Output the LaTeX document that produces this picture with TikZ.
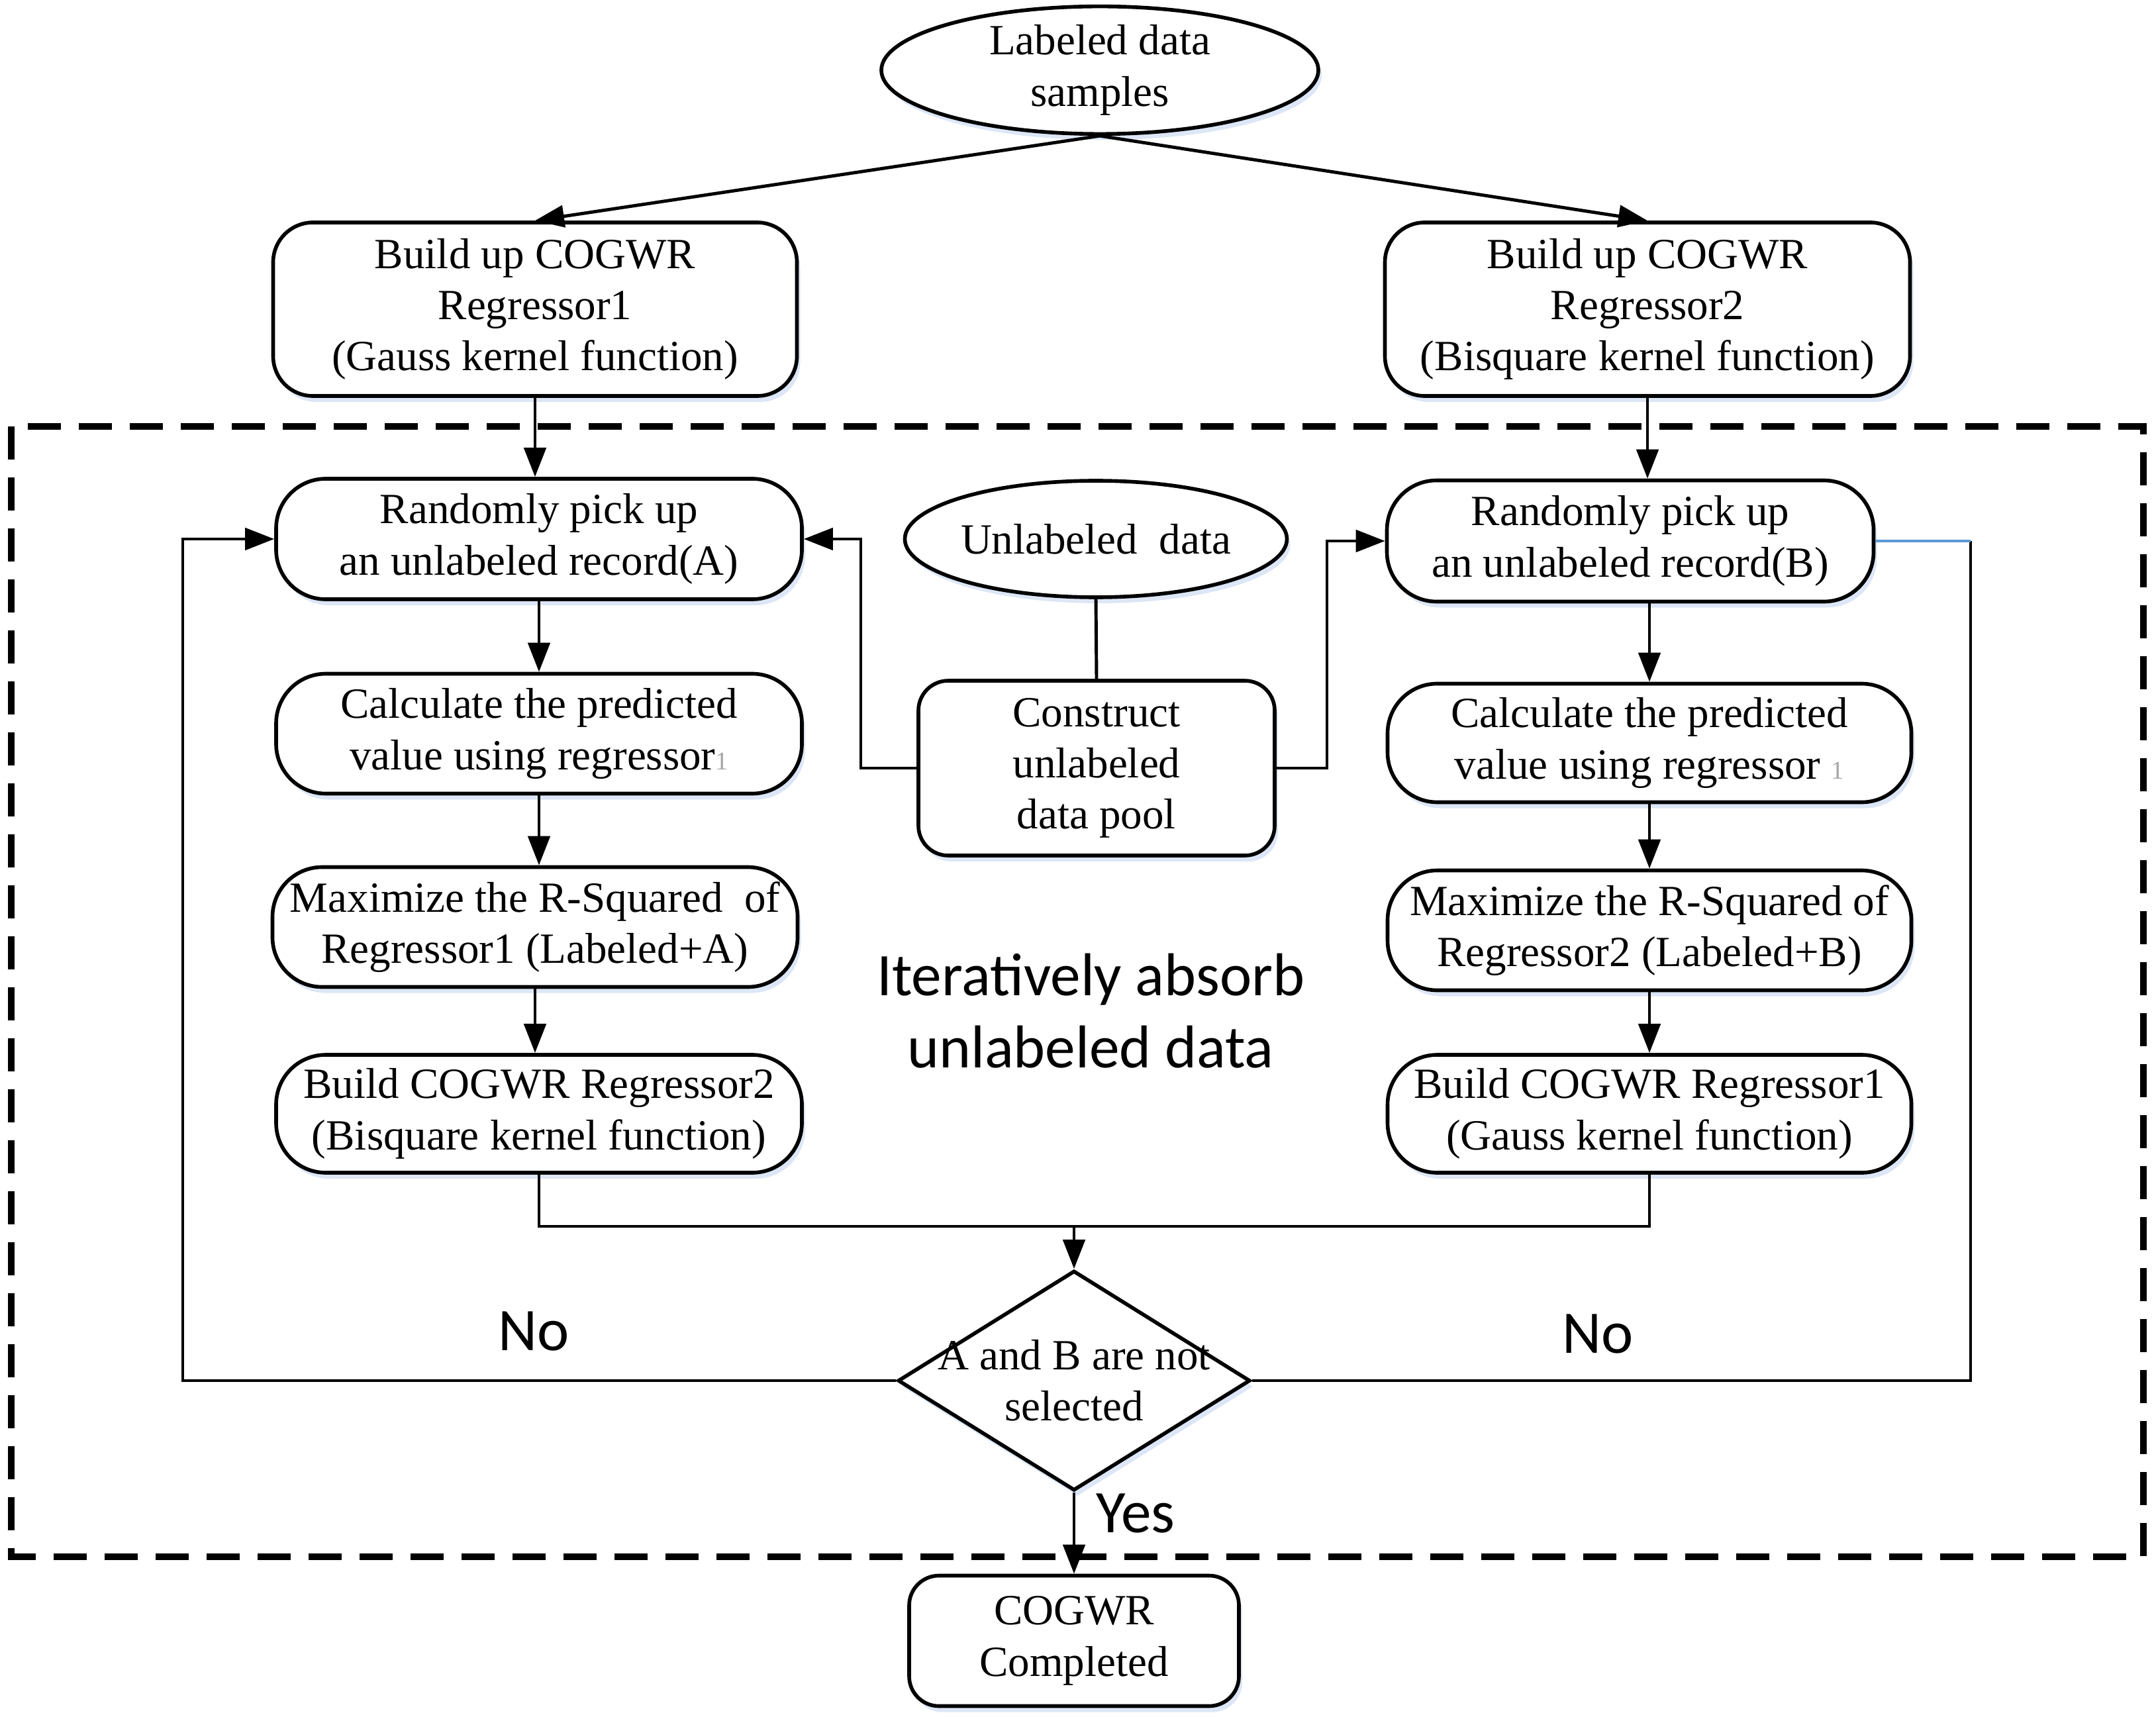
\documentclass[tikz,border=0pt]{standalone}
\usepackage{fontspec}
\setmainfont{Liberation Serif}
\newfontfamily\sansf{Carlito}
\usetikzlibrary{arrows.meta,shapes.geometric,shadows}
\definecolor{glow}{RGB}{205,220,242}
\definecolor{lineblue}{RGB}{91,155,213}
\tikzset{
  base/.style={draw=black, line width=1.6pt, fill=white, align=center, inner sep=0pt,
     font=\fontsize{18.5}{22}\selectfont,
     drop shadow={shadow xshift=0.5mm, shadow yshift=-0.9mm, fill=glow, opacity=0.7}},
  rbox/.style={base, rectangle, rounded corners=#1},
  ell/.style={base, ellipse},
  dia/.style={base, diamond},
  conn/.style={line width=1.4pt, draw=black},
  arr/.style={conn, -{Triangle[length=0.44cm,width=0.33cm]}},
  dashbox/.style={line width=2.8pt, dash pattern=on 0.5cm off 0.27cm},
  lbl/.style={font=\sansf\fontsize{26}{31}\selectfont, align=center, inner sep=0pt},
  dtext/.style={font=\fontsize{18.5}{22}\selectfont, align=center, inner sep=0pt}
}
\begin{document}
\begin{tikzpicture}
\useasboundingbox (0,0) rectangle (32.56,-25.93);

% dashed region
\draw[dashbox] (0.17,-6.44) rectangle (32.37,-23.51);

% nodes
\node[ell, minimum width=6.6cm, minimum height=1.6cm] (lab) at (16.61,-1.06) {Labeled data\\samples};
\node[rbox=0.6cm, minimum width=7.91cm, minimum height=2.62cm] (r1) at (8.08,-4.67) {Build up COGWR\\Regressor1\\(Gauss kernel function)};
\node[rbox=0.6cm, minimum width=7.93cm, minimum height=2.62cm] (r2) at (24.88,-4.67) {Build up COGWR\\Regressor2\\(Bisquare kernel function)};

\node[rbox=0.75cm, minimum width=7.94cm, minimum height=1.82cm] (ra) at (8.14,-8.14) {Randomly pick up\\an unlabeled record(A)};
\node[rbox=0.75cm, minimum width=7.35cm, minimum height=1.83cm] (rb) at (24.62,-8.17) {Randomly pick up\\an unlabeled record(B)};
\node[ell, minimum width=5.36cm, minimum height=1.76cm] (ud) at (16.55,-8.14) {Unlabeled\ \ data};
\node[rbox=0.45cm, minimum width=5.38cm, minimum height=2.64cm] (cp) at (16.56,-11.60) {Construct\\unlabeled\\ data pool};

\node[rbox=0.75cm, minimum width=7.94cm, minimum height=1.81cm] (ca) at (8.14,-11.08) {Calculate the predicted\\ value using regressor{\color{black!35}\fontsize{11}{12}\selectfont 1}};
\node[rbox=0.75cm, minimum width=7.91cm, minimum height=1.79cm] (cb) at (24.91,-11.22) {Calculate the predicted\\ value using regressor {\color{black!35}\fontsize{11}{12}\selectfont 1}};

\node[rbox=0.75cm, minimum width=7.93cm, minimum height=1.81cm] (ma) at (8.08,-14.00) {Maximize the R-Squared\ \ of\\Regressor1 (Labeled+A)};
\node[rbox=0.75cm, minimum width=7.91cm, minimum height=1.81cm] (mb) at (24.91,-14.05) {Maximize the R-Squared of\\Regressor2 (Labeled+B)};

\node[rbox=0.75cm, minimum width=7.94cm, minimum height=1.78cm] (ba) at (8.14,-16.82) {Build COGWR Regressor2\\(Bisquare kernel function)};
\node[rbox=0.75cm, minimum width=7.91cm, minimum height=1.78cm] (bb) at (24.91,-16.82) {Build COGWR Regressor1\\(Gauss kernel function)};

\node[dia, minimum width=5.32cm, minimum height=3.32cm] (dm) at (16.22,-20.85) {};
\node[dtext] (dmt) at (16.22,-20.85) {A and B are not\\selected};

\node[rbox=0.45cm, minimum width=4.98cm, minimum height=1.97cm] (done) at (16.22,-24.78) {COGWR\\Completed};

% texts
\node[lbl] (it) at (16.47,-15.27) {Iteratively absorb\\unlabeled data};
\node[lbl] (no1) at (8.06,-20.10) {No};
\node[lbl] (no2) at (24.13,-20.14) {No};
\node[lbl] (yes) at (17.15,-22.86) {Yes};

% connectors
\draw[arr] (lab.south) -- (r1.north);
\draw[arr] (lab.south) -- (r2.north);
\draw[arr] (r1.south) -- (r1.south |- ra.north);
\draw[arr] (r2.south) -- (r2.south |- rb.north);
\draw[arr] (ra.south) -- (ca.north);
\draw[arr] (cb.north |- rb.south) -- (cb.north);
\draw[arr] (ca.south) -- (ca.south |- ma.north);
\draw[arr] (cb.south) -- (mb.north);
\draw[arr] (ma.south) -- (ma.south |- ba.north);
\draw[arr] (mb.south) -- (bb.north);

\draw[conn] (ud.south) -- (cp.north);
\coordinate (cl) at (13.00,-11.60);
\coordinate (cr) at (20.04,-11.60);
\draw[arr] (cp.west) -- (cl) |- (ra.east);
\draw[arr] (cp.east) -- (cr) |- (rb.west);

\coordinate (mj) at (16.22,-18.52);
\draw[conn] (ba.south) |- (mj) -| (bb.south);
\draw[arr] (mj) -- (dm.north);

\coordinate (ll) at (2.76,-20.85);
\coordinate (rl) at (29.76,-20.85);
\draw[arr] (dm.west) -- (ll) |- (ra.west);
\draw[conn] (dm.east) -- (rl) -- (rl |- rb.east);
\draw[conn, draw=lineblue] (rl |- rb.east) -- (rb.east);

\draw[arr] (dm.south) -- (done.north);
\end{tikzpicture}
\end{document}
